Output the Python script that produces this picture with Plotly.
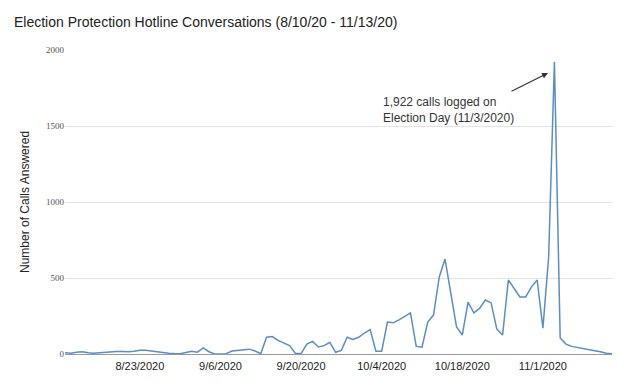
import pandas as pd
import plotly.graph_objects as go

start_date = "2020-08-10"
end_date = "2020-11-13"
dates = pd.date_range(start_date, end_date, freq="D")

calls = [
    8, 5, 12, 15, 8, 5, 8, 12, 15, 17,
    17, 15, 18, 25, 25, 20, 12, 8, 5, 3,
    2, 10, 18, 12, 40, 15, 0, 0, 2, 20,
    25, 28, 32, 20, 2, 110, 115, 90, 75, 55,
    5, 2, 65, 83, 46, 55, 77, 11, 24, 110,
    95, 110, 138, 160, 18, 18, 210, 205, 225, 250,
    270, 50, 45, 210, 256, 507, 625, 400, 178, 125,
    342, 270, 300, 355, 336, 164, 125, 487, 430, 375,
    375, 440, 487, 170, 640, 1922, 105, 65, 50, 42,
    38, 30, 22, 15, 5, 2,
]

tick_dates = ["2020-08-23", "2020-09-06", "2020-09-20", "2020-10-04", "2020-10-18", "2020-11-01"]
tick_labels = ["8/23/2020", "9/6/2020", "9/20/2020", "10/4/2020", "10/18/2020", "11/1/2020"]
y_ticks = [0, 500, 1000, 1500, 2000]

title_text = "Election Protection Hotline Conversations (8/10/20 - 11/13/20)"
y_title = "Number of Calls Answered"
note_text = "1,922 calls logged on<br>Election Day (11/3/2020)"

sans = "Liberation Sans, Arial, sans-serif"
serif = "Liberation Serif, Times New Roman, serif"

W, H = 620, 382
ML, MR, MT, MB = 57, 16, 42, 36
PW = W - ML - MR
PH = H - MT - MB

fig = go.Figure()
fig.add_trace(go.Scatter(
    x=dates, y=calls, mode="lines",
    line=dict(color="#5a8ec6", width=1.5),
    hoverinfo="x+y", showlegend=False,
))

fig.update_layout(
    width=W, height=H,
    margin=dict(l=ML, r=MR, t=MT, b=MB),
    paper_bgcolor="white", plot_bgcolor="white",
    title=dict(text=title_text, x=6 / W, xanchor="left", y=1 - 14 / H, yanchor="middle",
               font=dict(family=sans, size=14, color="#222222")),
    xaxis=dict(
        range=[dates[0], dates[-1]],
        tickvals=tick_dates, ticktext=tick_labels,
        tickfont=dict(family=sans, size=11, color="#222222"),
        showgrid=False, zeroline=False,
        showline=True, linecolor="#9a9a9a", linewidth=1,
        ticks="", ticklabelstandoff=2,
    ),
    yaxis=dict(
        range=[0, 2000],
        tickvals=y_ticks, ticktext=[str(v) for v in y_ticks],
        tickfont=dict(family=serif, size=9, color="#555555"),
        showgrid=True, gridcolor="#e3e3e3", gridwidth=1,
        zeroline=False, showline=False, ticks="",
    ),
)

fig.add_annotation(
    text=y_title, textangle=-90, xref="paper", yref="paper",
    x=-40 / PW, y=0.5, xanchor="center", yanchor="middle", showarrow=False,
    font=dict(family=sans, size=12, color="#222222"),
)

fig.add_annotation(
    text=note_text, xref="paper", yref="paper", align="left",
    x=(381 - 65) / PW, y=(354 - 110) / PH, xanchor="left", yanchor="middle",
    showarrow=False, font=dict(family=sans, size=12, color="#333333"),
)

fig.add_annotation(
    text="", xref="paper", yref="paper",
    x=(548 - 65) / PW, y=(354 - 73) / PH,
    ax=-38, ay=19, showarrow=True, arrowhead=2, arrowsize=1, arrowwidth=1.2,
    arrowcolor="#333333",
)

fig.write_html("out.html")
